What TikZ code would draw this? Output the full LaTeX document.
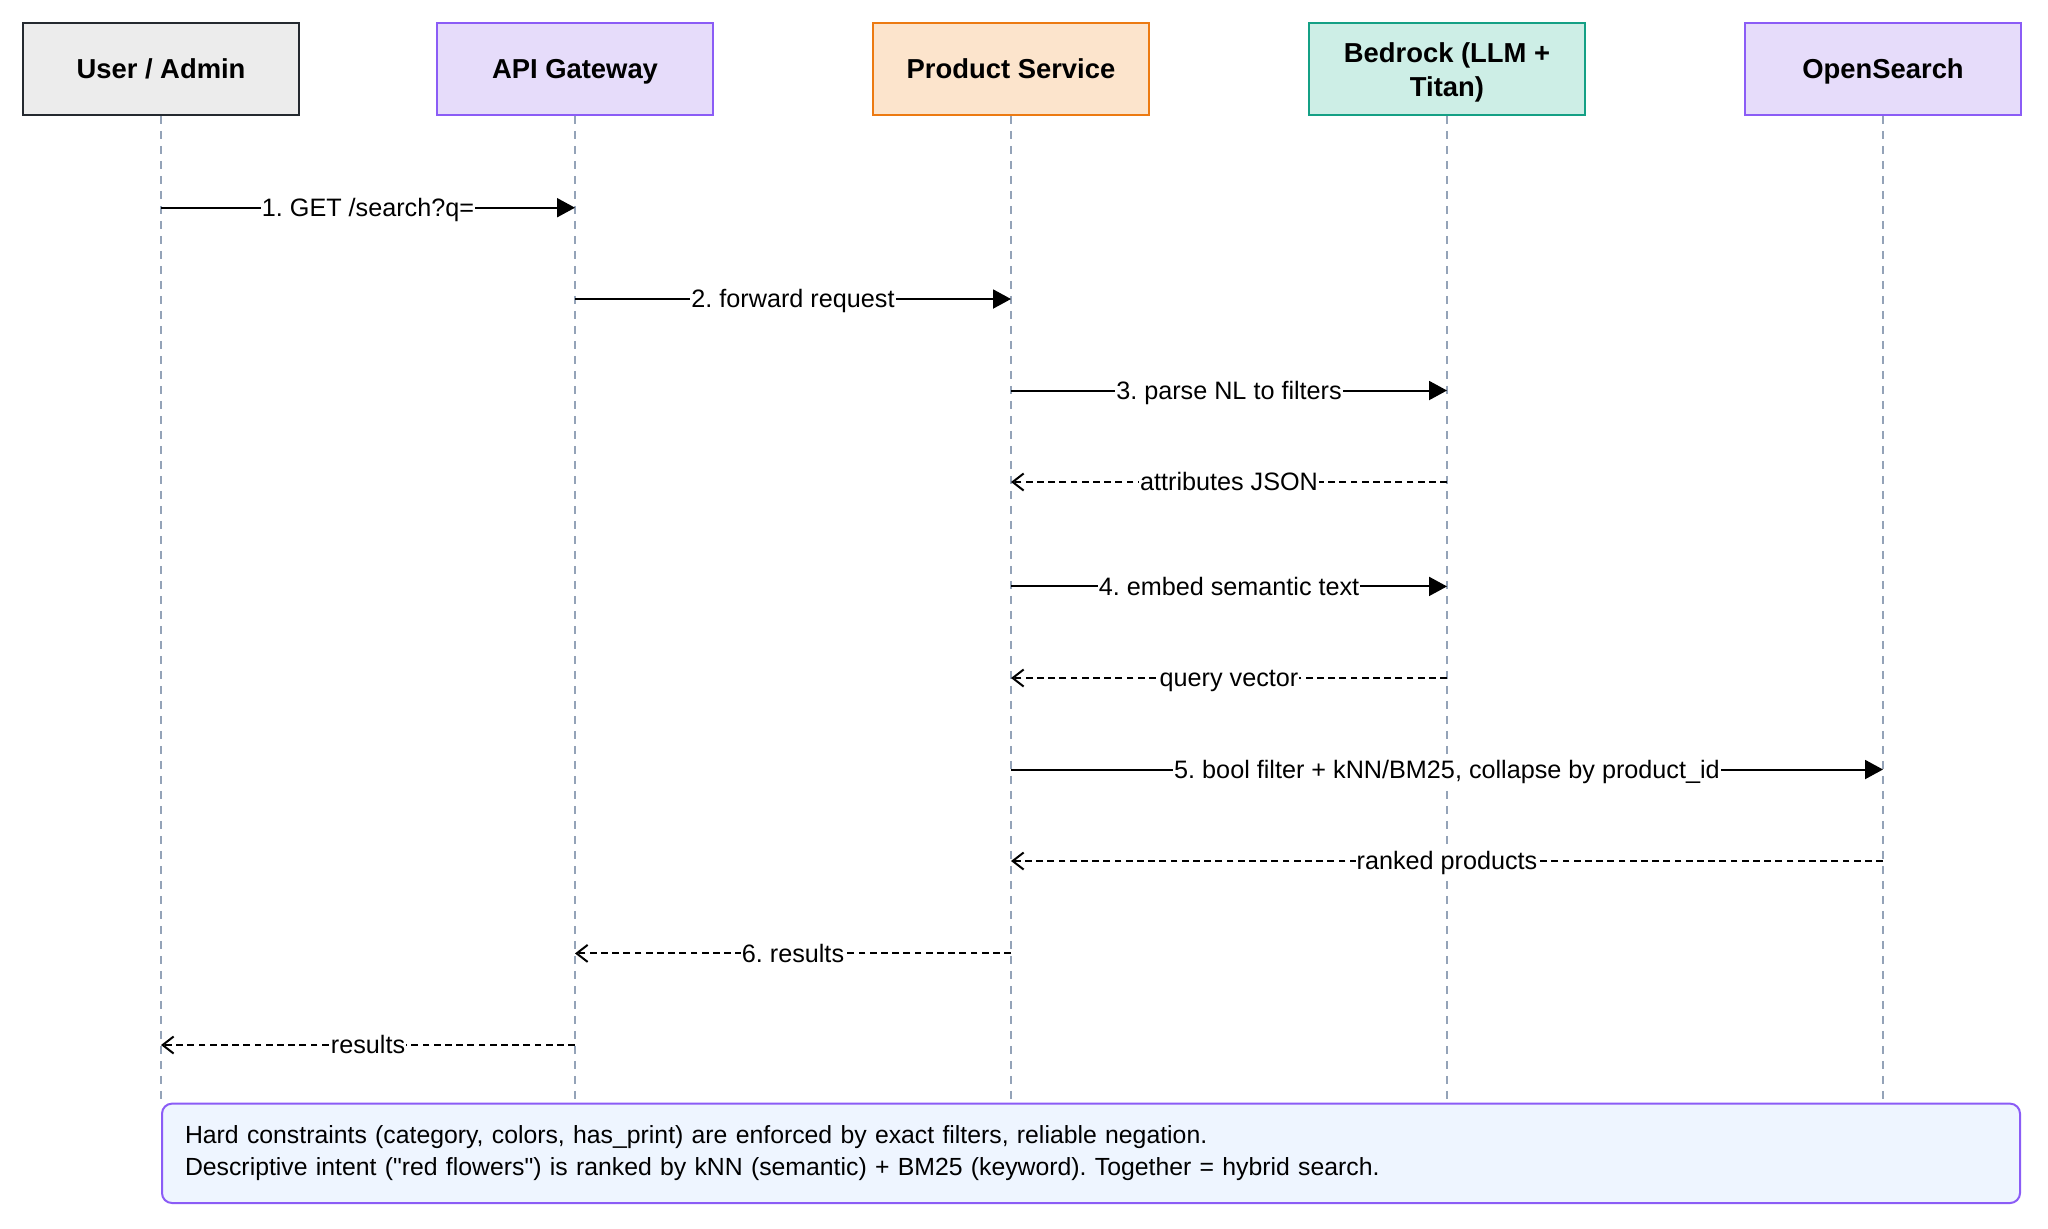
\documentclass[tikz,border=0pt]{standalone}
\usepackage{fontspec}
\setmainfont{Liberation Sans}[Ligatures=TeXOff]
\frenchspacing
\usetikzlibrary{arrows.meta}
\definecolor{userfill}{HTML}{ECECEC}
\definecolor{userdraw}{HTML}{24292F}
\definecolor{purpfill}{HTML}{E6DCFA}
\definecolor{purpdraw}{HTML}{8B5CF6}
\definecolor{orfill}{HTML}{FCE4CC}
\definecolor{ordraw}{HTML}{EC7A12}
\definecolor{tealfill}{HTML}{CDEEE6}
\definecolor{tealdraw}{HTML}{14A085}
\definecolor{notefill}{HTML}{EEF5FF}
\definecolor{lifecol}{HTML}{94A3B8}
\tikzset{
  actor/.style={draw, line width=1pt, minimum width=137.75pt, minimum height=45.75pt,
    align=center, font=\fontsize{13.7}{17}\selectfont\bfseries, inner sep=0pt},
  oneline/.style={text height=10pt, text depth=1pt},
  lifeline/.style={draw=lifecol, line width=0.8pt, dash pattern=on 4pt off 3.5pt},
  callmsg/.style={line width=1pt, -{Triangle[length=9pt,width=9.5pt]}},
  retmsg/.style={line width=1pt, dash pattern=on 3.4pt off 2.2pt, -{Straight Barb[length=5.5pt,width=8.5pt,line width=1pt]}},
  msglabel/.style={fill=white, inner xsep=0.5pt, inner ysep=0.5pt, text height=11pt, text depth=2.2pt,
    font=\fontsize{12.6}{14}\selectfont}
}
\begin{document}
\begin{tikzpicture}[x=0.5pt,y=-0.5pt]
\useasboundingbox (0,0) rectangle (2048,1228);
% actors
\node[actor, oneline, fill=userfill, draw=userdraw] (u) at (161,69) {User / Admin};
\node[actor, oneline, fill=purpfill, draw=purpdraw] (a) at (575,69) {API Gateway};
\node[actor, oneline, fill=orfill, draw=ordraw] (p) at (1011,69) {Product Service};
\node[actor, fill=tealfill, draw=tealdraw] (b) at (1447,69) {\rule{0pt}{13pt}Bedrock (LLM +\\Titan)};
\node[actor, oneline, fill=purpfill, draw=purpdraw] (o) at (1883,69) {OpenSearch};
% lifeline ends
\coordinate (ue) at (161,1101);
\coordinate (ae) at (575,1101);
\coordinate (pe) at (1011,1101);
\coordinate (be) at (1447,1101);
\coordinate (oe) at (1883,1101);
\draw[lifeline] (u.south) -- (ue);
\draw[lifeline] (a.south) -- (ae);
\draw[lifeline] (p.south) -- (pe);
\draw[lifeline] (b.south) -- (be);
\draw[lifeline] (o.south) -- (oe);
% messages
\draw[callmsg] (u.south |- 0,207.7) -- node[msglabel]{1. GET /search?q=} (a.south |- 0,207.7);
\draw[callmsg] (a.south |- 0,299) -- node[msglabel]{2. forward request} (p.south |- 0,299);
\draw[callmsg] (p.south |- 0,390.5) -- node[msglabel]{3. parse NL to filters} (b.south |- 0,390.5);
\draw[retmsg] (b.south |- 0,482) -- node[msglabel]{attributes JSON} (p.south |- 0,482);
\draw[callmsg] (p.south |- 0,586.4) -- node[msglabel]{4. embed semantic text} (b.south |- 0,586.4);
\draw[retmsg] (b.south |- 0,678) -- node[msglabel]{query vector} (p.south |- 0,678);
\draw[callmsg] (p.south |- 0,769.5) -- node[msglabel]{5. bool filter + kNN/BM25, collapse by product\_id} (o.south |- 0,769.5);
\draw[retmsg] (o.south |- 0,861) -- node[msglabel]{ranked products} (p.south |- 0,861);
\draw[retmsg] (p.south |- 0,953.4) -- node[msglabel]{6. results} (a.south |- 0,953.4);
\draw[retmsg] (a.south |- 0,1045) -- node[msglabel]{results} (u.south |- 0,1045);
% note
\node[draw=purpdraw, fill=notefill, line width=1pt, rounded corners=5pt,
  minimum width=929pt, minimum height=49.7pt, inner xsep=11.5pt, inner ysep=0pt,
  text width=906pt, align=left, font=\fontsize{12.4}{16}\selectfont] (note) at (1091,1153.3)
  {Hard constraints (category, colors, has\_print) are enforced by exact filters, reliable negation.\\
   Descriptive intent ("red flowers") is ranked by kNN (semantic) + BM25 (keyword). Together = hybrid search.};
\end{tikzpicture}
\end{document}
